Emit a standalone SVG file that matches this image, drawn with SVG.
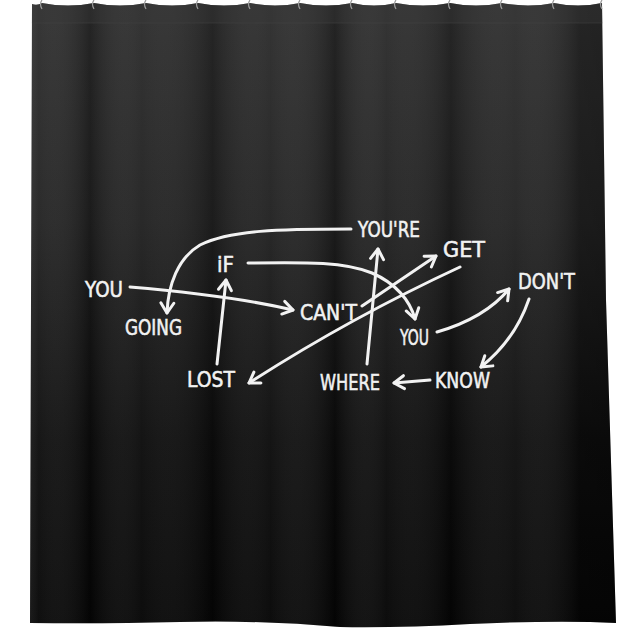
<svg xmlns="http://www.w3.org/2000/svg" width="644" height="644" viewBox="0 0 644 644">
<defs>
<linearGradient id="vg" x1="0" y1="0" x2="0" y2="1">
<stop offset="0" stop-color="#2e2e2e"/>
<stop offset="0.35" stop-color="#222"/>
<stop offset="0.7" stop-color="#0d0d0d"/>
<stop offset="1" stop-color="#050505"/>
</linearGradient>
<linearGradient id="folds" x1="0" y1="0" x2="1" y2="0">
<stop offset="0" stop-color="#000" stop-opacity="0.35"/>
<stop offset="0.06" stop-color="#fff" stop-opacity="0.04"/>
<stop offset="0.14" stop-color="#000" stop-opacity="0.2"/>
<stop offset="0.22" stop-color="#fff" stop-opacity="0.03"/>
<stop offset="0.33" stop-color="#000" stop-opacity="0.18"/>
<stop offset="0.42" stop-color="#fff" stop-opacity="0.03"/>
<stop offset="0.52" stop-color="#000" stop-opacity="0.22"/>
<stop offset="0.6" stop-color="#fff" stop-opacity="0.03"/>
<stop offset="0.7" stop-color="#000" stop-opacity="0.18"/>
<stop offset="0.8" stop-color="#fff" stop-opacity="0.04"/>
<stop offset="0.9" stop-color="#000" stop-opacity="0.2"/>
<stop offset="1" stop-color="#000" stop-opacity="0.3"/>
</linearGradient>
<marker id="ah" viewBox="-14 -9 18 18" refX="0" refY="0" markerWidth="18" markerHeight="18" markerUnits="userSpaceOnUse" orient="auto">
<path d="M-10,-6.5 L0,0 L-10,6.5" fill="none" stroke="#f2f2f2" stroke-width="3" stroke-linecap="round" stroke-linejoin="round"/>
</marker>
<clipPath id="cc"><path id="cshape" d="M32,4 Q37,6 42,3 Q68,8 94,3 Q120,8 146,3 Q172,8 198,3 Q224,8 250,3 Q275,8 300,3 Q326,8 352,3 Q374,8 396,3 Q423,8 450,3 Q476,8 502,3 Q528,8 554,3 Q578,8 602,3 L606,300 L616,623 Q560,620 470,624 Q400,628 340,627 Q260,620 180,622 Q100,624 30,623 L31,300 Z"/></clipPath>
<style>
.t{font-family:"DejaVu Sans","Liberation Sans",sans-serif;font-size:22px;fill:#f2f2f2;stroke:#f2f2f2;stroke-width:0.6;}
.c{fill:none;stroke:#f2f2f2;stroke-width:3;stroke-linecap:round;stroke-linejoin:round;}
</style>
</defs>
<rect width="644" height="644" fill="#fff"/>
<g id="curtain">
<use href="#cshape" fill="url(#vg)"/>
<g clip-path="url(#cc)">
<rect x="0" y="0" width="644" height="644" fill="url(#folds)"/>
<rect x="0" y="0" width="644" height="23" fill="#3a3a3a" opacity="0.35"/>
<line x1="0" y1="23" x2="644" y2="23" stroke="#444" stroke-width="1" opacity="0.5"/>
</g>
<g fill="none" stroke="#9a9a9a" stroke-width="1.2">
<path d="M42,9 Q39,4 42,0"/><path d="M94,9 Q91,4 94,0"/><path d="M146,9 Q143,4 146,0"/><path d="M198,9 Q195,4 198,0"/><path d="M250,9 Q247,4 250,0"/><path d="M300,9 Q297,4 300,0"/><path d="M352,9 Q349,4 352,0"/><path d="M396,9 Q393,4 396,0"/><path d="M450,9 Q447,4 450,0"/><path d="M502,9 Q499,4 502,0"/><path d="M554,9 Q551,4 554,0"/><path d="M602,9 Q599,4 602,0"/>
</g>
</g>
<g id="connectors">
<path class="c" d="M130,287 C190,292 250,300 293,310" marker-end="url(#ah)"/>
<path class="c" d="M351,229 C280,229 230,230 200,245 C178,258 168,285 167,313" marker-end="url(#ah)"/>
<path class="c" d="M217,364 L226,280" marker-end="url(#ah)"/>
<path class="c" d="M248,263 C310,262 345,262 372,273 C395,283 410,300 415,319" marker-end="url(#ah)"/>
<path class="c" d="M362,306 L436,256" marker-end="url(#ah)"/>
<path class="c" d="M460,267 Q350,318 249,383" marker-end="url(#ah)"/>
<path class="c" d="M367,364 L378,249" marker-end="url(#ah)"/>
<path class="c" d="M437,332 Q485,318 509,289" marker-end="url(#ah)"/>
<path class="c" d="M529,299 Q515,340 481,367" marker-end="url(#ah)"/>
<path class="c" d="M430,380 L394,383" marker-end="url(#ah)"/>
</g>
<g id="n-you1"><text class="t" x="85" y="297" textLength="38" lengthAdjust="spacingAndGlyphs">YOU</text></g>
<g id="n-going"><text class="t" x="125" y="335" textLength="57" lengthAdjust="spacingAndGlyphs">GOING</text></g>
<g id="n-if"><text class="t" x="217" y="272" textLength="17" lengthAdjust="spacingAndGlyphs">iF</text></g>
<g id="n-lost"><text class="t" x="187" y="387" textLength="48" lengthAdjust="spacingAndGlyphs">LOST</text></g>
<g id="n-cant"><text class="t" x="300" y="320" textLength="57" lengthAdjust="spacingAndGlyphs">CAN'T</text></g>
<g id="n-youre"><text class="t" x="358" y="237" textLength="62" lengthAdjust="spacingAndGlyphs">YOU'RE</text></g>
<g id="n-get"><text class="t" x="443" y="257" textLength="42" lengthAdjust="spacingAndGlyphs">GET</text></g>
<g id="n-you2"><text class="t" x="400" y="345" textLength="29" lengthAdjust="spacingAndGlyphs">YOU</text></g>
<g id="n-where"><text class="t" x="320" y="390" textLength="60" lengthAdjust="spacingAndGlyphs">WHERE</text></g>
<g id="n-dont"><text class="t" x="518" y="289" textLength="57" lengthAdjust="spacingAndGlyphs">DON'T</text></g>
<g id="n-know"><text class="t" x="435" y="388" textLength="55" lengthAdjust="spacingAndGlyphs">KNOW</text></g>
</svg>
